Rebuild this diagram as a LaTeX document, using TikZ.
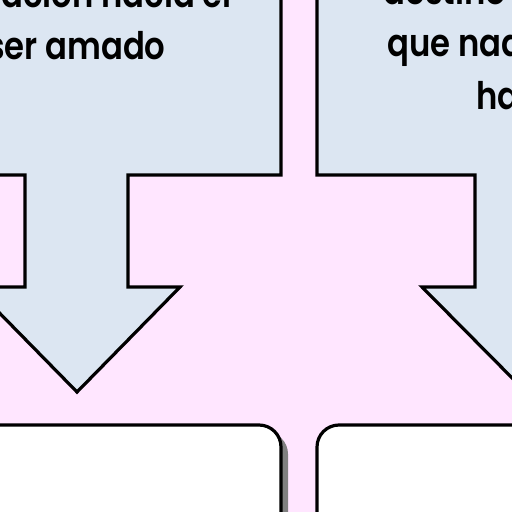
\documentclass[tikz,border=0pt]{standalone}
\usepackage{fontspec}
\setmainfont{Poppins}
\newfontfamily\calloutfont{Poppins SemiBold}[FakeStretch=0.85]
\usepackage{tikz}
\definecolor{bgpink}{RGB}{255,230,255}
\definecolor{callblue}{RGB}{220,230,242}
\tikzset{
  callout/.style={fill=callblue, draw=black, line width=1.6pt, line join=miter},
  whitebox/.style={fill=white, draw=black, line width=1.6pt, rounded corners=11pt},
  boxshadow/.style={fill=black!50, rounded corners=11pt},
  calltext/.style={font=\calloutfont\fontsize{19}{25}\selectfont, inner sep=0pt}
}

\begin{document}
\begin{tikzpicture}[x=0.5pt, y=-0.5pt]
  \useasboundingbox (0,0) rectangle (512,512);
  \fill[bgpink] (0,0) rectangle (512,512);
  \begin{scope}
    \draw[callout] (-40,-20) -- (281,-20) -- (281,175) -- (128,175) -- (128,287) -- (180,287)
      -- (77,392) -- (-26,287) -- (25,287) -- (25,175) -- (-40,175) -- cycle;
    \node[calltext, anchor=base east] (leftline1) at (232,8) {ación hacia el};
    \node[calltext, anchor=base east] (leftline2) at (166,60) {ser amado};
  \end{scope}
  \begin{scope}
    \draw[callout] (317,-20) -- (560,-20) -- (560,175) -- (577,175) -- (577,287) -- (630,287)
      -- (526,392) -- (422,287) -- (475,287) -- (475,175) -- (317,175) -- cycle;
    \node[calltext, anchor=base west] (rightline1) at (383,5) {destino};
    \node[calltext, anchor=base west] (rightline2) at (387,57) {que nad};
    \node[calltext, anchor=base west] (rightline3) at (476,110) {ha};
  \end{scope}
  \fill[boxshadow] (-33,432) rectangle (288,580);
  \draw[whitebox] (-40,425) rectangle (281,570);
  \fill[boxshadow] (324,432) rectangle (600,580);
  \draw[whitebox] (317,425) rectangle (590,570);
\end{tikzpicture}
\end{document}
